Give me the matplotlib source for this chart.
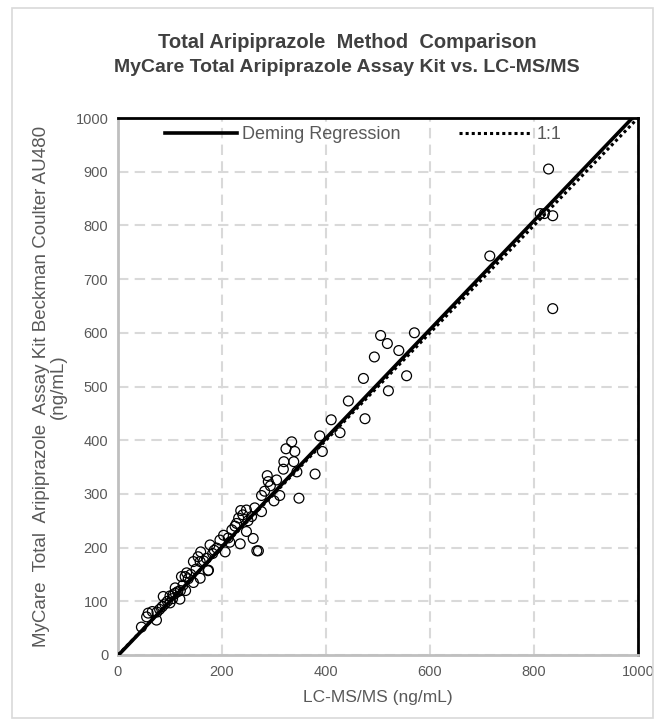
import numpy as np
import matplotlib
matplotlib.use("Agg")
import matplotlib.pyplot as plt
from matplotlib.patches import Rectangle

plt.rcParams['font.family'] = ['Liberation Sans', 'DejaVu Sans']

# LC-MS/MS (x) vs MyCare assay (y), ng/mL
lcms = [828, 812, 820, 836, 836, 715, 570, 505, 518, 540, 493, 555, 520, 472,
        475, 443, 410, 427, 388, 393, 379, 334, 323, 340, 319, 338, 318, 344,
        287, 305, 289, 348, 311, 276, 300, 236, 247, 240, 263, 276, 257, 228,
        247, 260, 235, 270, 219, 203, 196, 177, 190, 206, 159, 145, 154, 174,
        158, 132, 129, 182, 267, 173, 165, 150, 140, 135, 125, 120, 115, 110,
        105, 100, 95, 90, 85, 80, 75, 74, 66, 58, 55, 45, 119, 106, 87, 130,
        145, 100, 110, 122, 158, 212, 225, 250, 215, 185, 170, 282, 293, 232]
mycare = [905, 822, 822, 818, 645, 743, 600, 595, 580, 567, 555, 520, 492, 515,
          440, 473, 438, 414, 408, 379, 337, 397, 384, 379, 360, 360, 346, 341,
          334, 326, 323, 292, 297, 297, 287, 269, 270, 261, 274, 267, 258, 245,
          230, 217, 207, 194, 233, 223, 214, 205, 199, 192, 192, 174, 183, 158,
          174, 153, 146, 189, 194, 157, 175, 160, 150, 142, 130, 120, 118, 115,
          105, 110, 100, 95, 90, 85, 80, 65, 81, 78, 71, 52, 104, 112, 109, 120,
          135, 97, 125, 146, 143, 218, 240, 250, 210, 195, 180, 305, 315, 255]

deming_slope = 1.012
deming_intercept = -1.0
line_x = [0, 1000]
ticks = [0, 200, 400, 600, 800, 1000]
yticks = [0, 100, 200, 300, 400, 500, 600, 700, 800, 900, 1000]

fig = plt.figure(figsize=(6.61, 7.26), dpi=100)
fig.patches.append(Rectangle((12/661, 8/726), 641/661, 710/726, transform=fig.transFigure,
                             fill=False, edgecolor='#d9d9d9', linewidth=1.2))
ax = fig.add_axes([118/661, 71/726, 520/661, 537/726])

ax.scatter(lcms, mycare, s=50, facecolors='none', edgecolors='black', linewidths=0.9, zorder=3)
dem_y = [deming_slope * x + deming_intercept for x in line_x]
ax.plot(line_x, dem_y, color='black', lw=2.6, label='Deming Regression', zorder=4)
ax.plot(line_x, line_x, color='black', lw=2.2, ls=(0, (1, 1)), label='1:1', zorder=4)

ax.set_xlim(0, 1000)
ax.set_ylim(0, 1000)
ax.set_xticks(ticks)
ax.set_yticks(yticks)
ax.grid(True, color='#d9d9d9', lw=1.5, ls=(0, (5, 3)))
ax.set_axisbelow(True)
ax.tick_params(length=0, labelsize=10.5, colors='#595959', pad=7)
for s in ['left', 'bottom']:
    ax.spines[s].set_color('#bfbfbf')
    ax.spines[s].set_linewidth(2)
for s in ['top', 'right']:
    ax.spines[s].set_color('black')
    ax.spines[s].set_linewidth(2)

ax.set_xlabel('LC-MS/MS (ng/mL)', fontsize=12.5, color='#595959', labelpad=8)
ax.set_ylabel('MyCare  Total  Aripiprazole  Assay Kit Beckman Coulter AU480\n(ng/mL)',
              fontsize=13.5, color='#595959', labelpad=6, linespacing=1.0)

ax.legend(loc='upper left', bbox_to_anchor=(0.09, 0.985), ncol=2, frameon=False,
          borderpad=0, borderaxespad=0, handlelength=4, handletextpad=0.3,
          columnspacing=3.2, fontsize=13, labelcolor='#595959')

fig.text(347/661, 1 - 43/726, 'Total Aripiprazole  Method  Comparison', ha='center', va='center',
         fontsize=14.5, fontweight='bold', color='#404040')
fig.text(347/661, 1 - 67/726, 'MyCare Total Aripiprazole Assay Kit vs. LC-MS/MS',
         ha='center', va='center', fontsize=14, fontweight='bold', color='#404040')

fig.savefig('out.png', dpi=100)
